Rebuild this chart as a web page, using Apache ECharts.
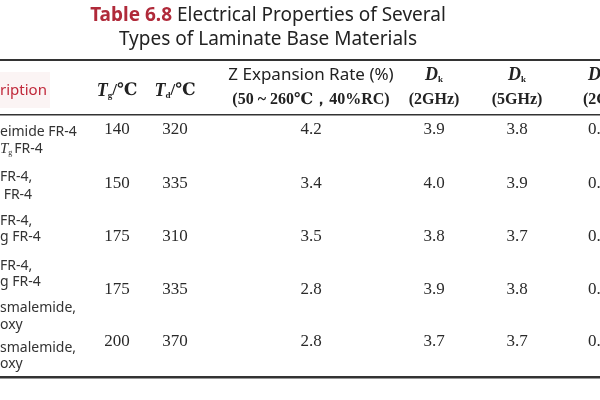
<!DOCTYPE html>
<html><head><meta charset="utf-8">
<script src="https://cdn.jsdelivr.net/npm/echarts@6/dist/echarts.min.js"></script>
<style>body{margin:0;background:#fff}#main{width:600px;height:400px}</style>
</head><body><div id="main"></div>
<script>
var myChart = echarts.init(document.getElementById('main'));

// table data
var tg = ['140', '150', '175', '175', '200'];
var td = ['320', '335', '310', '335', '370'];
var zRate = ['4.2', '3.4', '3.5', '2.8', '2.8'];
var dk2 = ['3.9', '4.0', '3.8', '3.9', '3.7'];
var dk5 = ['3.8', '3.9', '3.7', '3.8', '3.7'];
var df2 = ['0.', '0.', '0.', '0.', '0.'];
var descLines = [
    ['eimide FR-4', '{i|T}{sub|g}FR-4'],
    ['FR-4,', ' FR-4'],
    ['FR-4,', 'g FR-4'],
    ['FR-4,', 'g FR-4'],
    ['smalemide,', 'oxy'],
    ['smalemide,', 'oxy']
];

var rowY = [130, 184, 237, 290, 342];
var descY = [[132, 149], [177, 195], [221, 237], [266, 282], [308, 325], [348, 364]];
var serif = '"Liberation Serif", "DejaVu Serif", serif';
var sans = '"Noto Sans", "Open Sans", sans-serif';

var els = [];
function txt(x, y, text, opt) {
    els.push({
        type: 'text', x: x, y: y,
        style: Object.assign({
            text: text, fill: '#2a2a2a', font: '17px ' + serif,
            align: 'center', verticalAlign: 'middle'
        }, opt || {})
    });
}
function rule(y, w) {
    els.push({type: 'rect', shape: {x: 0, y: y, width: 600, height: w}, style: {fill: '#333'}});
}

// title
txt(268, 16, '{r|Table 6.8} Electrical Properties of Several', {
    font: '19px ' + sans, fill: '#222',
    rich: {r: {fill: '#b02a3a', font: 'bold 19px ' + sans}}
});
txt(268, 40, 'Types of Laminate Base Materials', {font: '19px ' + sans, fill: '#222'});

rule(59, 2);
rule(114, 1.5);
rule(376, 2.5);

// header
els.push({type: 'rect', shape: {x: 0, y: 72, width: 50, height: 36}, style: {fill: '#fbf4f4'}});
txt(0, 91, 'ription', {align: 'left', font: '15px ' + sans, fill: '#c0283a'});
var richH = {
    i: {font: 'bold italic 18px ' + serif, fill: '#222'},
    sub: {font: 'bold 9px ' + serif, fill: '#222', verticalAlign: 'bottom', padding: [8, 0, 0, 0]},
    n: {font: 'bold 17px ' + serif, fill: '#222'}
};
txt(117, 91, '{i|T}{sub|g}{n|/℃}', {rich: richH});
txt(175, 91, '{i|T}{sub|d}{n|/℃}', {rich: richH});
txt(311, 75, 'Z Expansion Rate (%)', {font: '17px ' + sans, fill: '#222'});
txt(311, 100, '(50 ~ 260℃，40%RC)', {font: 'bold 16px ' + serif, fill: '#222'});
txt(434, 75, '{i|D}{sub|k}', {rich: richH});
txt(517, 75, '{i|D}{sub|k}', {rich: richH});
txt(434, 100, '(2GHz)', {font: 'bold 16px ' + serif, fill: '#222'});
txt(517, 100, '(5GHz)', {font: 'bold 16px ' + serif, fill: '#222'});
txt(583, 100, '(2G', {align: 'left', font: 'bold 16px ' + serif, fill: '#222'});
txt(588, 75, '{i|D}', {align: 'left', rich: richH});

// body
descLines.forEach(function (lines, r) {
    lines.forEach(function (s, k) {
        txt(0, descY[r][k], s, {
            align: 'left', font: '14px ' + sans, fill: '#333',
            rich: {
                i: {font: 'italic 15px ' + serif, fill: '#333'},
                sub: {font: '8px ' + serif, fill: '#333', verticalAlign: 'bottom', padding: [7, 2, 0, 0]}
            }
        });
    });
});
rowY.forEach(function (y, r) {
    txt(117, y, tg[r]);
    txt(175, y, td[r]);
    txt(311, y, zRate[r]);
    txt(434, y, dk2[r]);
    txt(517, y, dk5[r]);
    txt(588, y, df2[r], {align: 'left'});
});

option = {
    backgroundColor: '#fff',
    graphic: {elements: els}
};
myChart.setOption(option);
</script></body></html>
